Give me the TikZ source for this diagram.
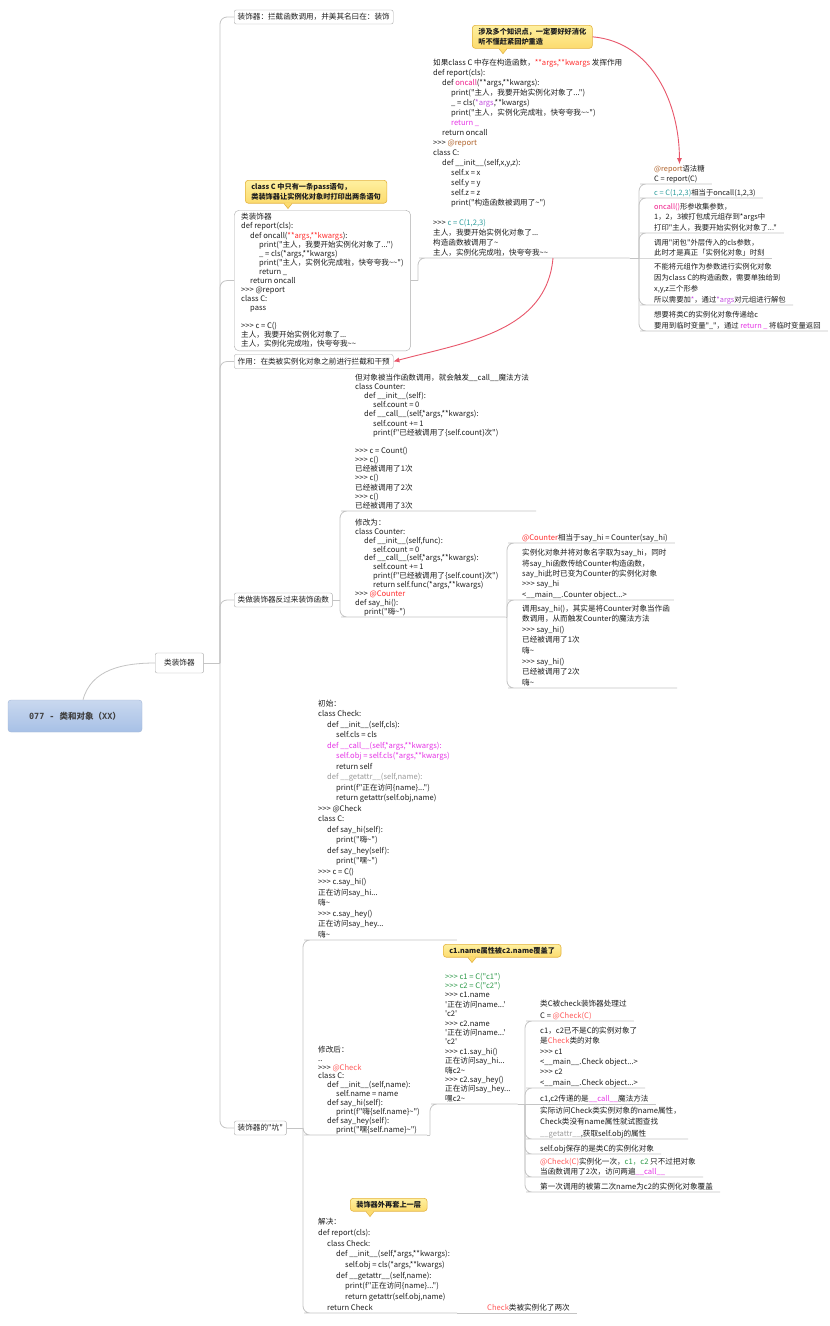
\documentclass[tikz,border=0pt]{standalone}
\usepackage{fontspec}
\setmainfont{Noto Sans CJK SC}[Ligatures=TeXOff]
\newfontfamily\rootmono{DejaVu Sans Mono}
\usetikzlibrary{calc,arrows.meta}

\definecolor{linegray}{HTML}{C4C4C4}
\definecolor{boxgray}{HTML}{ABABAB}
\definecolor{txtdark}{HTML}{1E1E1E}
\definecolor{txtred}{HTML}{FF2D2D}
\definecolor{txtpink}{HTML}{F0208C}
\definecolor{txtpurple}{HTML}{C34FE0}
\definecolor{txtmag}{HTML}{E633E6}
\definecolor{txtbrown}{HTML}{B0622A}
\definecolor{txtteal}{HTML}{2E9E9E}
\definecolor{txtsalmon}{HTML}{FF5A5A}
\definecolor{txtgreen}{HTML}{2E9A4A}
\definecolor{txtgray}{HTML}{9A9A9A}
\definecolor{arrowred}{HTML}{E8566A}
\definecolor{noteTop}{HTML}{FEF0A0}
\definecolor{noteBot}{HTML}{FCDB6E}
\definecolor{noteline}{HTML}{E4B33F}
\definecolor{rootTop}{HTML}{C9D8EF}
\definecolor{rootBot}{HTML}{A7C0E6}
\definecolor{rootline}{HTML}{A3B6D6}

\newcommand{\schrift}[1]{\fontsize{7.6}{#1}\selectfont}
\newcommand{\rechts}[1]{\fontsize{7.35}{#1}\selectfont}
\newcommand{\wv}{\textasciitilde}
\newcommand{\ein}{\hspace*{9pt}}
\newcommand{\zwei}{\hspace*{18pt}}
\newcommand{\drei}{\hspace*{27pt}}

% (parent anchor, child box)
\newcommand{\stamm}[2]{
    \draw[linie] (#1) -- ($(#2.west |- #1)+(-14,0)$);
    \draw[linie, rounded corners=7pt] ($(#2.west |- #1)+(-14,0)$) |- (#2.west);
}
% (parent anchor, child topic)
\newcommand{\zweig}[2]{
    \draw[linie] (#1) -- ($(#2.south west |- #1)+(-8,0)$);
    \draw[linie, rounded corners=7pt] ($(#2.south west |- #1)+(-8,0)$) |- (#2.south west) -- (#2.south east);
}
\newcommand{\gerade}[2]{
    \draw[linie] (#1) -- (#2.south west) -- (#2.south east);
}
% (callout, offset of the tip)
\newcommand{\zeiger}[2]{
    \fill[noteBot] ($(#1.south west)+(#2-4,-0.8)$) -- ($(#1.south west)+(#2+4,-0.8)$) -- ($(#1.south west)+(#2,5)$) -- cycle;
    \draw[noteline, line width=0.6pt] ($(#1.south west)+(#2-4,0)$) -- ($(#1.south west)+(#2,5)$) -- ($(#1.south west)+(#2+4,0)$);
}

\tikzset{
  linie/.style={draw=linegray, line width=0.8pt},
  thema/.style={anchor=south west, align=left, inner xsep=7pt, inner ysep=0.7pt, text=txtdark,
    execute at end node={\rule[-1.8pt]{0pt}{0pt}}},
  kasten/.style={draw=boxgray, fill=white, rounded corners=2pt, anchor=west, inner xsep=3.5pt,
    inner ysep=2pt, minimum height=14pt, text=txtdark, font=\schrift{9}},
  codekasten/.style={draw=boxgray, fill=white, rounded corners=5pt, anchor=north west, align=left,
    inner xsep=7pt, inner ysep=3.3pt, text=txtdark},
  hinweis/.style={draw=noteline, line width=0.6pt, top color=noteTop, bottom color=noteBot,
    rounded corners=3pt, anchor=north west, align=left, inner xsep=6pt, inner ysep=3pt,
    font=\fontsize{7.2}{10}\selectfont\bfseries, text=txtdark},
  wurzel/.style={draw=rootline, top color=rootTop, bottom color=rootBot, rounded corners=3pt,
    minimum width=134pt, minimum height=32pt, text=black!75,
    font=\fontsize{8.5}{10}\selectfont\bfseries},
  pfeil/.style={draw=arrowred, line width=0.9pt, -{Latex[length=6pt,width=5pt]}}
}

\begin{document}
\begin{tikzpicture}[x=1pt,y=-1pt]
  \fill[white] (0,0) rectangle (830,1326);
  \useasboundingbox (0,0) rectangle (830,1326);

  % root and main branch
  \node[wurzel] (root) at (75,716) {{\rootmono 077 - }类和对象（{\rootmono XX}）};
  \node[kasten, inner xsep=9pt, minimum height=20pt] (clsdeco) at (155,663) {类装饰器};
  \draw[linie] ([xshift=8pt]root.north) to[out=75,in=180] (clsdeco.west);

  \node[kasten] (deco) at (234,17) {装饰器：拦截函数调用，并美其名曰在：装饰};
  \node[codekasten, font=\schrift{9.07}] (clsbox) at (234,210) {类装饰器\\
def report(cls):\\
\ein def oncall(\textcolor{txtred}{**args,**kwargs}):\\
\zwei print("主人，我要开始实例化对象了...")\\
\zwei \_ = cls(*args,**kwargs)\\
\zwei print("主人，实例化完成啦，快夸夸我\wv\wv")\\
\zwei return \_\\
\ein return oncall\\
>>> @report\\
class C:\\
\ein pass\\[9pt]
>>> c = C()\\
主人，我要开始实例化对象了...\\
主人，实例化完成啦，快夸夸我\wv\wv};
  \node[kasten] (zweck) at (234,361.5) {作用：在类被实例化对象之前进行拦截和干预};
  \node[kasten] (fnbox) at (234,600) {类做装饰器反过来装饰函数};
  \node[kasten] (pit) at (234,1128) {装饰器的"坑"};
  \stamm{clsdeco.east}{deco}
  \stamm{clsdeco.east}{clsbox}
  \stamm{clsdeco.east}{zweck}
  \stamm{clsdeco.east}{fnbox}
  \stamm{clsdeco.east}{pit}

  % report as class decorator
  \node[thema, font=\schrift{10}] (blockA) at (426,258) {如果class C 中存在构造函数，\textcolor{txtred}{**args,**kwargs} 发挥作用\\
def report(cls):\\
\ein def \textcolor{txtpink}{oncall}(**args,**kwargs):\\
\zwei print("主人，我要开始实例化对象了...")\\
\zwei \_ = cls(\textcolor{txtpurple}{*args},**kwargs)\\
\zwei print("主人，实例化完成啦，快夸夸我\wv\wv")\\
\zwei \textcolor{txtmag}{return \_}\\
\ein return oncall\\
>>> \textcolor{txtbrown}{@report}\\
class C:\\
\ein def \_\_init\_\_(self,x,y,z):\\
\zwei self.x = x\\
\zwei self.y = y\\
\zwei self.z = z\\
\zwei print("构造函数被调用了\wv")\\[10pt]
>>> \textcolor{txtteal}{c = C(1,2,3)}\\
主人，我要开始实例化对象了...\\
构造函数被调用了\wv\\
主人，实例化完成啦，快夸夸我\wv\wv};
  \zweig{clsbox.east}{blockA}

  \node[thema, font=\rechts{10}] (r1) at (647,184) {\textcolor{txtbrown}{@report}语法糖\\C = report(C)};
  \node[thema, font=\rechts{10}] (r2) at (647,198) {\textcolor{txtteal}{c = C(1,2,3)}相当于oncall(1,2,3)};
  \node[thema, font=\rechts{10.5}] (r3) at (647,233) {\textcolor{txtpink}{oncall()}形参收集参数，\\1，2，3被打包成元组存到*args中\\打印"主人，我要开始实例化对象了..."};
  \node[thema, font=\rechts{10}] (r4) at (647,258) {调用"闭包"外层传入的cls参数，\\此时才是真正「实例化对象」时刻};
  \node[thema, font=\rechts{11}] (r5) at (647,305) {不能将元组作为参数进行实例化对象\\因为class C的构造函数，需要单独给到\\x,y,z三个形参\\所以需要加\textcolor{txtpurple}{*}，通过\textcolor{txtpurple}{*args}对元组进行解包};
  \node[thema, font=\rechts{11}] (r6) at (647,331) {想要将类C的实例化对象传递给c\\要用到临时变量"\_"，通过 \textcolor{txtmag}{return \_} 将临时变量返回};
  \zweig{blockA.south east}{r1}
  \zweig{blockA.south east}{r2}
  \zweig{blockA.south east}{r3}
  \gerade{blockA.south east}{r4}
  \zweig{blockA.south east}{r5}
  \zweig{blockA.south east}{r6}

  % class used to decorate a function
  \node[thema, font=\schrift{9.14}] (cnt1) at (348,511) {但对象被当作函数调用，就会触发\_\_call\_\_魔法方法\\
class Counter:\\
\ein def \_\_init\_\_(self):\\
\zwei self.count = 0\\
\ein def \_\_call\_\_(self,*args,**kwargs):\\
\zwei self.count += 1\\
\zwei print(f"已经被调用了\{self.count\}次")\\[9.14pt]
>>> c = Count()\\
>>> c()\\
已经被调用了1次\\
>>> c()\\
已经被调用了2次\\
>>> c()\\
已经被调用了3次};
  \node[thema, font=\schrift{8.9}] (cnt2) at (348,617) {修改为：\\
class Counter:\\
\ein def \_\_init\_\_(self,func):\\
\zwei self.count = 0\\
\ein def \_\_call\_\_(self,*args,**kwargs):\\
\zwei self.count += 1\\
\zwei print(f"已经被调用了\{self.count\}次")\\
\zwei return self.func(*args,**kwargs)\\
>>> \textcolor{txtred}{@Counter}\\
def say\_hi():\\
\ein print("嗨\wv")};
  \zweig{fnbox.east}{cnt1}
  \zweig{fnbox.east}{cnt2}

  \node[thema, font=\schrift{10}] (n1) at (515,543) {\textcolor{txtred}{@Counter}相当于say\_hi = Counter(say\_hi)};
  \node[thema, font=\schrift{10.4}] (n2) at (515,600) {实例化对象并将对象名字取为say\_hi，同时\\将say\_hi函数传给Counter构造函数，\\say\_hi此时已变为Counter的实例化对象\\>>> say\_hi\\<\_\_main\_\_.Counter object...>};
  \node[thema, font=\schrift{10.6}] (n3) at (515,688) {调用say\_hi()，其实是将Counter对象当作函\\数调用，从而触发Counter的魔法方法\\>>> say\_hi()\\已经被调用了1次\\嗨\wv\\>>> say\_hi()\\已经被调用了2次\\嗨\wv};
  \zweig{cnt2.south east}{n1}
  \zweig{cnt2.south east}{n2}
  \zweig{cnt2.south east}{n3}

  % the pitfall
  \node[thema, font=\schrift{10.5}] (p1) at (311,940) {初始：\\
class Check:\\
\ein def \_\_init\_\_(self,cls):\\
\zwei self.cls = cls\\
\ein \textcolor{txtmag}{def \_\_call\_\_(self,*args,**kwargs):}\\
\zwei \textcolor{txtmag}{self.obj = self.cls(*args,**kwargs)}\\
\zwei return self\\
\ein \textcolor{txtgray}{def \_\_getattr\_\_(self,name):}\\
\zwei print(f"正在访问\{name\}...")\\
\zwei return getattr(self.obj,name)\\
>>> @Check\\
class C:\\
\ein def say\_hi(self):\\
\zwei print("嗨\wv")\\
\ein def say\_hey(self):\\
\zwei print("嘿\wv")\\
>>> c = C()\\
>>> c.say\_hi()\\
正在访问say\_hi...\\
嗨\wv\\
>>> c.say\_hey()\\
正在访问say\_hey...\\
嗨\wv};
  \node[thema, font=\schrift{8.9}] (p2) at (311,1135) {修改后：\\
..\\
>>> \textcolor{txtsalmon}{@Check}\\
class C:\\
\ein def \_\_init\_\_(self,name):\\
\zwei self.name = name\\
\ein def say\_hi(self):\\
\zwei print(f"嗨\{self.name\}\wv")\\
\ein def say\_hey(self):\\
\zwei print("嘿\{self.name\}\wv")};
  \node[thema, font=\schrift{10.7}] (p3) at (311,1313) {解决：\\
def report(cls):\\
\ein class Check:\\
\zwei def \_\_init\_\_(self,*args,**kwargs):\\
\drei self.obj = cls(*args,**kwargs)\\
\zwei def \_\_getattr\_\_(self,name):\\
\drei print(f"正在访问\{name\}...")\\
\drei return getattr(self.obj,name)\\
\ein return Check};
  \zweig{pit.east}{p1}
  \zweig{pit.east}{p2}
  \zweig{pit.east}{p3}

  \node[thema, font=\schrift{9.4}] (q) at (438,1104) {\textcolor{txtgreen}{>>> c1 = C("c1")}\\
\textcolor{txtgreen}{>>> c2 = C("c2")}\\
>>> c1.name\\
'正在访问name...'\\
'c2'\\
>>> c2.name\\
'正在访问name...'\\
'c2'\\
>>> c1.say\_hi()\\
正在访问say\_hi...\\
嗨c2\wv\\
>>> c2.say\_hey()\\
正在访问say\_hey...\\
嘿c2\wv};
  \zweig{p2.south east}{q}

  \node[thema, font=\schrift{12}] (s1) at (533,1021) {类C被check装饰器处理过\\C = \textcolor{txtsalmon}{@Check(C)}};
  \node[thema, font=\schrift{10.4}] (s2) at (533,1088) {c1，c2已不是C的实例对象了\\是\textcolor{txtsalmon}{Check}类的对象\\>>> c1\\<\_\_main\_\_.Check object...>\\>>> c2\\<\_\_main\_\_.Check object...>};
  \node[thema, font=\schrift{10}] (s3) at (533,1104) {c1,c2传递的是\textcolor{txtmag}{\_\_call\_\_}魔法方法};
  \node[thema, font=\schrift{11.3}] (s4) at (533,1139) {实际访问Check类实例对象的name属性，\\Check类没有name属性就试图查找\\\textcolor{txtgray}{\_\_getattr\_\_},获取self.obj的属性};
  \node[thema, font=\schrift{10}] (s5) at (533,1154) {self.obj保存的是类C的实例化对象};
  \node[thema, font=\schrift{10}] (s6) at (533,1177) {\textcolor{txtsalmon}{@Check(C)}实例化一次，\textcolor{txtgreen}{c1，c2} 只不过把对象\\当函数调用了2次，访问两遍\textcolor{txtmag}{\_\_call\_\_}};
  \node[thema, font=\schrift{10}] (s7) at (533,1192) {第一次调用的被第二次name为c2的实例化对象覆盖};
  \zweig{q.south east}{s1}
  \zweig{q.south east}{s2}
  \gerade{q.south east}{s3}
  \zweig{q.south east}{s4}
  \zweig{q.south east}{s5}
  \zweig{q.south east}{s6}
  \zweig{q.south east}{s7}

  \node[thema, font=\schrift{10}] (t) at (480,1313) {\textcolor{txtsalmon}{Check}类被实例化了两次};
  \gerade{p3.south east}{t}

  % callouts
  \node[hinweis] (tipp1) at (472,25) {涉及多个知识点，一定要好好消化\\听不懂赶紧回炉重造};
  \zeiger{tipp1}{31}
  \node[hinweis] (tipp2) at (245,180) {class C 中只有一条pass语句，\\类装饰器让实例化对象时打印出两条语句};
  \zeiger{tipp2}{43}
  \node[hinweis] (tipp3) at (443,944) {c1.name属性被c2.name覆盖了};
  \zeiger{tipp3}{29}
  \node[hinweis] (tipp4) at (350,1198) {装饰器外再套上一层};
  \zeiger{tipp4}{20}

  % red relations
  \coordinate (quelleA) at ($(blockA.south west)+(127,0)$);
  \draw[pfeil] (tipp1.east) to[out=-5,in=90] (r1.north);
  \draw[pfeil] (quelleA) to[out=-95,in=15] (zweck.east);

\end{tikzpicture}
\end{document}
